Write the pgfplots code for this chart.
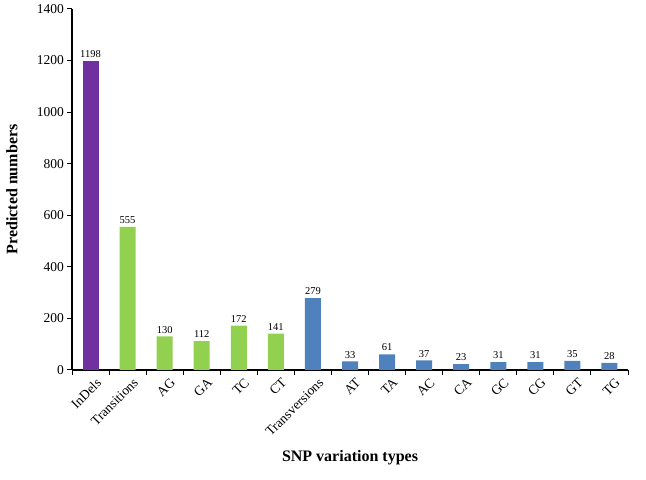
\documentclass[border=0pt]{standalone}
\usepackage{pgfplots}
\pgfplotsset{compat=1.18}
\usepackage{fontspec}
\setmainfont{Liberation Serif}
\definecolor{cpurple}{HTML}{7030A0}
\definecolor{cgreen}{HTML}{92D050}
\definecolor{cblue}{HTML}{4F81BD}
\begin{document}
\begin{tikzpicture}[x=1bp,y=1bp]
\useasboundingbox (0,0) rectangle (646,480);
\begin{axis}[
  at={(72bp,110bp)}, anchor=south west,
  scale only axis,
  width=556bp, height=361bp,
  xmin=-0.5, xmax=14.5, ymin=0, ymax=1400,
  axis x line*=bottom, axis y line*=left,
  axis line style={line width=1.2pt, black},
  xtick={0,...,14},
  xticklabels={InDels,Transitions,AG,GA,TC,CT,Transversions,AT,TA,AC,CA,GC,CG,GT,TG},
  major x tick style={draw=none},
  minor xtick={-0.5,0.5,...,14.5},
  minor tick length=5bp,
  minor x tick style={line width=1pt, black},
  xtick align=outside,
  ytick={0,200,...,1400},
  ytick align=outside,
  major tick length=5bp,
  major y tick style={line width=1pt, black},
  /pgf/number format/1000 sep={},
  /pgf/number format/assume math mode=true,
  tick label style={font=\fontsize{13.5bp}{15bp}\selectfont},
  xticklabel style={rotate=45, anchor=north east, inner sep=1bp, xshift=3bp, yshift=-4bp},
  yticklabel style={inner sep=3bp},
  xlabel={\textbf{SNP variation types}},
  ylabel={\textbf{Predicted numbers}},
  label style={font=\fontsize{16bp}{18bp}\selectfont},
  xlabel style={at={(axis description cs:0.5,0)}, anchor=center, yshift=-88bp},
  ylabel style={at={(axis description cs:0,0.5)}, anchor=center, rotate=0, yshift=60bp},
  ybar, bar width=16bp, bar shift=0pt,
  nodes near coords,
  every node near coord/.append style={font=\fontsize{10.5bp}{12bp}\selectfont, black, inner sep=2bp, yshift=1bp},
]
\addplot[fill=cpurple, draw=none] coordinates {(0,1198)};
\addplot[fill=cgreen, draw=none] coordinates {(1,555) (2,130) (3,112) (4,172) (5,141)};
\addplot[fill=cblue, draw=none] coordinates {(6,279) (7,33) (8,61) (9,37) (10,23) (11,31) (12,31) (13,35) (14,28)};
\end{axis}
\end{tikzpicture}
\end{document}
